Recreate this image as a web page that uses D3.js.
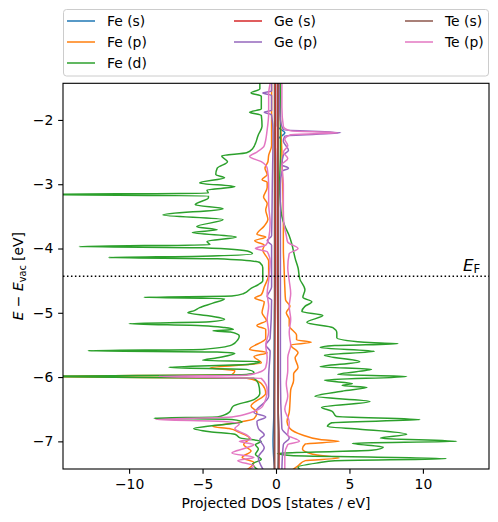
<!DOCTYPE html>
<html><head><meta charset="utf-8">
<script src="https://cdn.jsdelivr.net/npm/d3@7"></script>
<style>body{margin:0;background:#fff}svg text{font-family:"DejaVu Sans",sans-serif}</style>
</head><body><svg id="c" width="498" height="522"></svg>
<script>
const E_F = -4.43;
const xTicks = [-10,-5,0,5,10];
const yTicks = [-7,-6,-5,-4,-3,-2];
const labels = ["Fe (s)","Fe (p)","Fe (d)","Ge (s)","Ge (p)","Te (s)","Te (p)"];
const colors = ["#1f77b4","#ff7f0e","#2ca02c","#d62728","#9467bd","#8c564b","#e377c2"];

// [energy, DOS]
const feS_up = [[-1.43,0.1],[-2.1,0.1],[-2.2,0.6],[-2.3,0.15],[-2.6,0.1],[-4.4,0.1],[-6.5,0.15],[-7.0,0.2],[-7.43,0.15]];
const feS_dn = [[-1.43,-0.05],[-4.4,-0.05],[-5.0,-0.1],[-6.6,-0.15],[-7.0,-0.2],[-7.43,-0.1]];
const feP_up = [[-1.43,0.25],[-2.0,0.3],[-2.5,0.4],[-3.0,0.45],[-3.5,0.5],[-4.0,0.5],[-4.3,0.55],[-4.6,0.6],[-4.8,0.65],[-4.9,0.95],[-5.0,0.7],[-5.1,0.9],[-5.2,0.9],[-5.35,1.4],[-5.42,1.4],[-5.46,2.4],[-5.5,1.0],[-5.62,1.5],[-5.7,1.3],[-5.85,1.5],[-5.95,1.2],[-6.05,1.2],[-6.2,1.0],[-6.4,0.95],[-6.55,0.9],[-6.69,0.75],[-6.8,0.95],[-6.9,1.8],[-6.97,3],[-7.0,4.3],[-7.04,2],[-7.12,1.8],[-7.2,2.5],[-7.26,4.3],[-7.3,2],[-7.38,1.5],[-7.43,1.2]];
const feP_dn = [[-1.43,-0.3],[-2.0,-0.3],[-2.4,-0.3],[-2.55,-0.5],[-2.65,-0.55],[-2.75,-0.75],[-2.85,-0.6],[-2.93,-0.95],[-2.97,-0.6],[-3.05,-0.6],[-3.2,-0.85],[-3.3,-0.6],[-3.4,-0.7],[-3.55,-0.55],[-3.65,-0.8],[-3.78,-1.3],[-3.82,-0.7],[-3.88,-1.45],[-3.95,-0.8],[-4.02,-0.9],[-4.2,-0.5],[-4.4,-0.5],[-4.6,-0.8],[-4.72,-1.0],[-4.77,-1.45],[-4.83,-0.8],[-5.0,-0.95],[-5.12,-0.65],[-5.2,-1.3],[-5.26,-0.7],[-5.4,-0.7],[-5.57,-1.8],[-5.62,-0.6],[-5.68,-1.5],[-5.78,-1.0],[-5.86,-4.5],[-5.9,-2.8],[-5.96,-3],[-5.99,-16],[-6.02,-2],[-6.1,-1.0],[-6.25,-0.7],[-6.45,-1.7],[-6.55,-1.3],[-6.65,-1.5],[-6.72,-3],[-6.77,-4.3],[-6.8,-3.2],[-6.86,-2.5],[-6.95,-1.8],[-7.05,-2.2],[-7.15,-1.7],[-7.25,-2.3],[-7.33,-1.5],[-7.43,-1.9]];
const feD_up = [[-1.43,0.3],[-2.0,0.3],[-2.5,0.3],[-3.0,0.25],[-3.3,0.3],[-3.5,0.4],[-3.65,0.6],[-3.8,0.9],[-3.95,1.1],[-4.05,1.2],[-4.15,1.3],[-4.3,1.5],[-4.48,1.63],[-4.64,1.97],[-4.76,1.83],[-4.83,2.44],[-4.9,1.97],[-4.98,1.76],[-5.04,3.19],[-5.15,2.1],[-5.23,3.87],[-5.31,4.14],[-5.39,4.14],[-5.46,6],[-5.48,8.3],[-5.51,4],[-5.54,3.0],[-5.6,6.7],[-5.66,3.3],[-5.76,5.7],[-5.84,3.0],[-5.88,6.5],[-5.96,4.2],[-5.99,8.9],[-6.05,3.3],[-6.1,5.2],[-6.13,4.5],[-6.16,6.2],[-6.22,4.5],[-6.3,2.65],[-6.38,6.4],[-6.47,3.1],[-6.53,3.8],[-6.61,4.1],[-6.66,9.8],[-6.71,3.8],[-6.77,3.5],[-6.81,5.7],[-6.89,8.9],[-6.95,7.1],[-7.0,12.3],[-7.03,5.2],[-7.09,7.3],[-7.14,6.5],[-7.17,2],[-7.19,0.1],[-7.22,1],[-7.27,11.6],[-7.30,4],[-7.33,3],[-7.4,1.5],[-7.43,1.6]];
const feD_dn = [[-1.43,-1.1],[-1.52,-1.1],[-1.58,-1.7],[-1.63,-1.0],[-1.83,-1.0],[-1.88,-1.8],[-1.93,-1.0],[-2.1,-0.95],[-2.23,-1.2],[-2.45,-1.6],[-2.51,-2.0],[-2.56,-3.7],[-2.65,-3.3],[-2.75,-4.0],[-2.85,-4.1],[-2.9,-3.5],[-2.98,-5.2],[-3.04,-2.8],[-3.09,-4.7],[-3.14,-4.6],[-3.16,-17],[-3.18,-4.6],[-3.21,-4.6],[-3.32,-5.5],[-3.38,-3.6],[-3.48,-7.7],[-3.55,-3.6],[-3.66,-5.4],[-3.71,-4.0],[-3.75,-5.7],[-3.82,-2.7],[-3.89,-4.7],[-3.94,-4.5],[-3.97,-13.4],[-3.99,-5],[-4.05,-1.8],[-4.08,-1.6],[-4.12,-5],[-4.14,-11.4],[-4.16,-4],[-4.22,-1.1],[-4.3,-0.9],[-4.5,-0.9],[-4.56,-1.2],[-4.62,-1.7],[-4.7,-2.2],[-4.74,-3],[-4.76,-9],[-4.78,-3.5],[-4.85,-4.3],[-4.92,-5.2],[-4.97,-5.6],[-5.0,-6.0],[-5.05,-4.5],[-5.1,-3.5],[-5.14,-4.5],[-5.17,-10],[-5.2,-5],[-5.23,-3.5],[-5.26,-2.9],[-5.28,-4.3],[-5.3,-3.1],[-5.36,-2.5],[-5.42,-2.6],[-5.5,-3.0],[-5.57,-5],[-5.59,-12.8],[-5.61,-4],[-5.63,-2.8],[-5.7,-4.0],[-5.74,-5],[-5.76,-1.1],[-5.8,-1.8],[-5.85,-7.3],[-5.88,-2],[-5.93,-1.5],[-5.96,-2],[-5.99,-17],[-6.02,-1.5],[-6.1,-1.2],[-6.25,-1.1],[-6.35,-1.5],[-6.45,-2.9],[-6.55,-3.2],[-6.62,-4],[-6.64,-8.3],[-6.66,-3],[-6.7,-2.3],[-6.76,-4.5],[-6.8,-5.6],[-6.85,-4.5],[-6.89,-2.8],[-6.95,-2.4],[-7.0,-1.0],[-7.05,-1.4],[-7.12,-1.2],[-7.2,-1.4],[-7.28,-1.0],[-7.35,-1.6],[-7.43,-1.3]];
const geS_up = [[-1.43,0.1],[-4.0,0.1],[-6.5,0.15],[-7.0,0.2],[-7.43,0.2]];
const geS_dn = [[-1.43,-0.05],[-4.0,-0.05],[-6.5,-0.1],[-7.43,-0.1]];
const geP_up = [[-1.43,0.2],[-2.0,0.3],[-2.15,0.5],[-2.2,4.4],[-2.25,0.6],[-2.33,0.5],[-2.47,0.85],[-2.55,0.5],[-2.7,0.4],[-2.75,0.85],[-2.8,0.4],[-3.0,0.3],[-4.0,0.3],[-5.0,0.3],[-6.0,0.3],[-6.8,0.4],[-6.95,0.9],[-7.05,0.5],[-7.43,0.4]];
const geP_dn = [[-1.43,-0.3],[-1.55,-0.3],[-1.58,-0.9],[-1.62,-0.3],[-1.85,-0.3],[-1.88,-0.8],[-1.92,-0.3],[-2.2,-0.2],[-3.0,-0.25],[-3.8,-0.3],[-3.88,-0.6],[-3.95,-0.3],[-4.6,-0.3],[-4.75,-0.6],[-4.8,-0.3],[-5.4,-0.4],[-5.5,-0.7],[-5.6,-0.4],[-6.0,-0.5],[-6.3,-0.5],[-6.5,-1.3],[-6.55,-1.5],[-6.62,-0.7],[-6.69,-1.3],[-6.8,-1.2],[-6.9,-0.8],[-6.97,-1.1],[-7.1,-0.8],[-7.25,-1.2],[-7.43,-0.9]];
const teS_up = [[-1.43,0.15],[-3.0,0.15],[-5.0,0.15],[-6.5,0.15],[-7.43,0.15]];
const teS_dn = [[-1.43,-0.1],[-3.0,-0.1],[-5.0,-0.1],[-6.5,-0.1],[-7.43,-0.1]];
const teP_up = [[-1.43,0.4],[-1.8,0.4],[-2.1,0.5],[-2.17,1.0],[-2.2,4.2],[-2.23,1.0],[-2.3,0.6],[-2.4,0.8],[-2.5,0.5],[-2.6,0.8],[-2.7,0.4],[-3.0,0.5],[-3.3,0.5],[-3.5,0.5],[-3.7,0.6],[-3.8,0.7],[-3.9,0.8],[-4.0,1.5],[-4.08,0.9],[-4.3,0.8],[-4.5,0.9],[-4.7,1.0],[-4.9,0.9],[-5.1,1.0],[-5.3,0.9],[-5.42,0.95],[-5.5,1.0],[-5.7,0.8],[-5.9,0.8],[-6.1,0.7],[-6.3,0.8],[-6.5,0.6],[-6.7,0.9],[-6.9,0.8],[-7.0,1.6],[-7.05,0.8],[-7.2,0.6],[-7.43,0.6]];
const teP_dn = [[-1.43,-0.4],[-1.6,-0.5],[-1.9,-0.5],[-2.15,-0.6],[-2.4,-0.8],[-2.5,-1.3],[-2.57,-1.8],[-2.65,-1.0],[-2.75,-0.6],[-3.0,-0.5],[-3.3,-0.5],[-3.6,-0.4],[-3.85,-0.5],[-3.95,-0.7],[-4.0,-1.4],[-4.05,-0.6],[-4.2,-0.4],[-4.5,-0.5],[-4.7,-0.6],[-4.9,-0.5],[-5.1,-0.6],[-5.3,-0.5],[-5.5,-0.7],[-5.7,-0.6],[-5.85,-0.7],[-5.93,-1.2],[-5.97,-2],[-5.99,-8],[-6.02,-1],[-6.2,-0.6],[-6.45,-0.9],[-6.55,-1.7],[-6.62,-3],[-6.66,-8.2],[-6.69,-3.5],[-6.73,-2.5],[-6.8,-2.8],[-6.9,-2.0],[-6.97,-1.7],[-7.0,-2.5],[-7.05,-1.5],[-7.1,-2.0],[-7.18,-3.0],[-7.25,-1.5],[-7.3,-2.6],[-7.38,-1.5],[-7.43,-1.8]];

const series = [
  [feS_up, feS_dn], [feP_up, feP_dn], [feD_up, feD_dn],
  [geS_up, geS_dn], [geP_up, geP_dn], [teS_up, teS_dn], [teP_up, teP_dn]
];

const svg = d3.select("#c");
const L = 63, R = 489, T = 83.3, B = 469;
const x = d3.scaleLinear().domain([-14.5, 14.5]).range([L, R]);
const y = d3.scaleLinear().domain([-7.43, -1.43]).range([B, T]);
const fmt = d => d < 0 ? "\u2212" + Math.abs(d) : String(d);

svg.append("defs").append("clipPath").attr("id","clip")
  .append("rect").attr("x",L).attr("y",T).attr("width",R-L).attr("height",B-T);

const line = d3.line().x(d => x(d[1])).y(d => y(d[0])).curve(d3.curveMonotoneY);
const g = svg.append("g").attr("clip-path","url(#clip)");
series.forEach((pair, i) => {
  pair.forEach(arr => {
    g.append("path").attr("d", line(arr)).attr("fill","none")
      .attr("stroke", colors[i]).attr("stroke-width",1.5)
      .attr("stroke-linejoin","round").attr("stroke-linecap","square");
  });
});

// Fermi level
svg.append("line").attr("x1",L).attr("x2",R).attr("y1",y(E_F)).attr("y2",y(E_F))
  .attr("stroke","#000").attr("stroke-width",1.5).attr("stroke-dasharray","1.5,2.475");
const ef = svg.append("text").attr("x",463).attr("y",y(E_F)-5).attr("font-size",16.7);
ef.append("tspan").attr("font-style","italic").text("E");
ef.append("tspan").attr("font-size",11.7).attr("dy",2).text("F");

// axes
const xa = svg.append("g").attr("transform",`translate(0,${B})`)
  .call(d3.axisBottom(x).tickValues(xTicks).tickFormat(fmt).tickSize(4.86).tickPadding(4.86));
const ya = svg.append("g").attr("transform",`translate(${L},0)`)
  .call(d3.axisLeft(y).tickValues(yTicks).tickFormat(fmt).tickSize(4.86).tickPadding(4.86));
[xa, ya].forEach(a => {
  a.select(".domain").remove();
  a.selectAll("line").attr("stroke","#000").attr("stroke-width",1.1);
  a.selectAll("text").attr("font-size",13.9).attr("fill","#000").attr("font-family","DejaVu Sans");
});
svg.append("rect").attr("x",L).attr("y",T).attr("width",R-L).attr("height",B-T)
  .attr("fill","none").attr("stroke","#000").attr("stroke-width",1.1);

// axis labels
svg.append("text").attr("x",(L+R)/2).attr("y",508).attr("text-anchor","middle")
  .attr("font-size",13.9).text("Projected DOS [states / eV]");
const yl = svg.append("text").attr("transform",`translate(23,${(T+B)/2}) rotate(-90)`)
  .attr("text-anchor","middle").attr("font-size",13.9);
yl.append("tspan").attr("font-style","italic").text("E");
yl.append("tspan").text(" \u2212 ");
yl.append("tspan").attr("font-style","italic").text("E");
yl.append("tspan").attr("font-size",9.7).attr("dy",2.5).text("vac");
yl.append("tspan").attr("dy",-2.5).text(" [eV]");

// legend
const lg = svg.append("g");
lg.append("rect").attr("x",63.5).attr("y",9.5).attr("width",425).attr("height",66.5)
  .attr("rx",3).attr("fill","#fff").attr("fill-opacity",0.8).attr("stroke","#cccccc").attr("stroke-width",1);
const colX = [67, 234, 405];
const rowY = [21, 42, 63];
const pos = [[0,0],[0,1],[0,2],[1,0],[1,1],[2,0],[2,1]];
labels.forEach((lab, i) => {
  const [c, r] = pos[i];
  lg.append("line").attr("x1",colX[c]).attr("x2",colX[c]+28).attr("y1",rowY[r]).attr("y2",rowY[r])
    .attr("stroke",colors[i]).attr("stroke-width",1.5);
  lg.append("text").attr("x",colX[c]+40).attr("y",rowY[r]+5).attr("font-size",13.9).text(lab);
});
</script></body></html>
